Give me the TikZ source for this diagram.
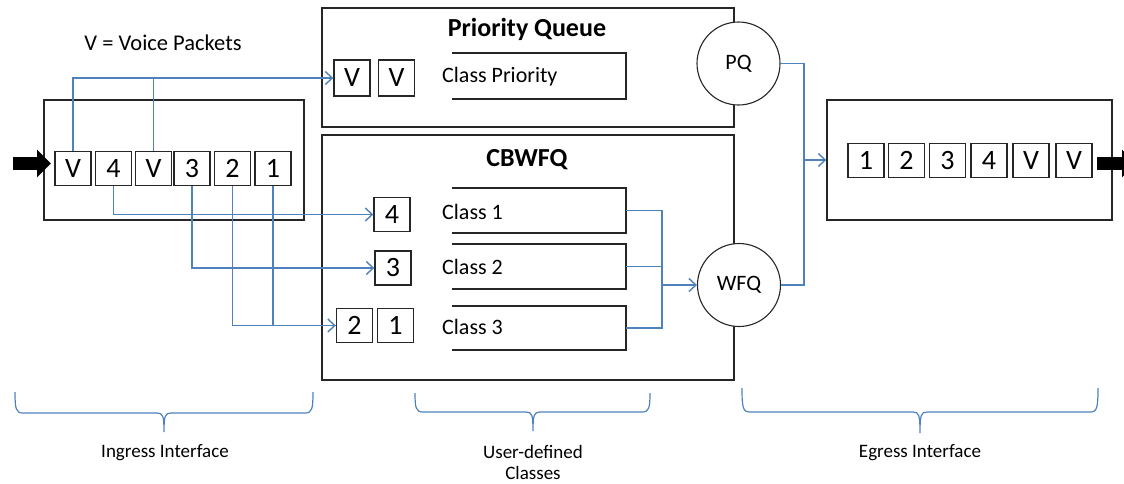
\documentclass[tikz,border=0pt]{standalone}
\usepackage{fontspec}
\setmainfont{Carlito}
\usetikzlibrary{arrows.meta}
\definecolor{lineblue}{HTML}{4F81BD}
\definecolor{boxgray}{HTML}{262626}
\newcommand{\mybrace}[6]{%
  \draw[bracestyle] (#1,#4) .. controls (#1,#5-4) and (#1+1,#5) .. (#1+8,#5)
    -- (#3-7,#5) .. controls (#3-1,#5) and (#3,#5+3) .. (#3,#6)
    .. controls (#3,#5+3) and (#3+1,#5) .. (#3+7,#5)
    -- (#2-8,#5) .. controls (#2-1,#5) and (#2,#5-4) .. (#2,#4);}
\begin{document}
\begin{tikzpicture}[x=1pt,y=-1pt,
  frame/.style={draw=boxgray,line width=1.4pt,fill=white,inner sep=0pt},
  packet/.style={draw=boxgray,line width=1.4pt,minimum width=36pt,minimum height=34pt,inner sep=0pt,font=\fontsize{28}{30}\selectfont},
  sched/.style={circle,draw=boxgray,line width=1.1pt,fill=white,inner sep=0pt,font=\fontsize{22}{24}\selectfont},
  queue/.style={draw=boxgray,line width=1.4pt},
  flow/.style={draw=lineblue,line width=1.4pt},
  flowarrow/.style={flow,-{Straight Barb[length=7pt,width=13pt,line width=1.4pt]}},
  bigarrow/.style={line width=13pt,-{Triangle[length=14pt,width=27pt]}},
  bracestyle/.style={draw=lineblue,line width=1.2pt},
  title/.style={font=\fontsize{26}{28}\selectfont\bfseries},
  lbl/.style={font=\fontsize{22}{24}\selectfont,anchor=west,inner sep=0pt},
  bottom/.style={font=\fontsize{19}{21.5}\selectfont,align=center,inner sep=1pt}]
\useasboundingbox (0,0) rectangle (1124,483);
\clip (0,0) rectangle (1124,483);

% legend
\node[font=\fontsize{22.5}{24}\selectfont] (legend) at (163,43) {V = Voice Packets};

% ingress interface
\node[frame,minimum width=260pt,minimum height=120pt] (ing) at (174,160) {};
\node[packet] (i1) at (73,168.5) {V};
\node[packet] (i2) at (113.5,168.5) {4};
\node[packet] (i3) at (153.5,168.5) {V};
\node[packet] (i4) at (192,168.5) {3};
\node[packet] (i5) at (232.5,168.5) {2};
\node[packet] (i6) at (273,168.5) {1};
\coordinate (la) at (13,163.5);
\coordinate (lb) at (51,163.5);
\draw[bigarrow] (la) -- (lb);

% priority queue
\node[frame,minimum width=412pt,minimum height=119pt] (pqbox) at (528,67.5) {};
\node[title] (pqt) at (527,29) {Priority Queue};
\node[packet,minimum height=36pt] (pv1) at (352,78) {V};
\node[packet,minimum height=36pt] (pv2) at (396.5,78) {V};
\draw[queue] (452,53) -- (626,53) -- (626,99) -- (452,99);
\node[lbl] (cp) at (442,77) {Class Priority};
\node[sched,minimum size=83pt] (pq) at (738.5,63.5) {PQ};

% CBWFQ
\node[frame,minimum width=412pt,minimum height=245pt] (cbbox) at (528,257.5) {};
\node[title] (cbt) at (527,160) {CBWFQ};
\node[packet] (c4) at (392,214.5) {4};
\node[packet] (c3) at (393,268) {3};
\node[packet] (c2) at (354.5,325.5) {2};
\node[packet] (c1) at (395.5,325.5) {1};
\draw[queue] (452,188) -- (626,188) -- (626,233) -- (452,233);
\draw[queue] (452,244) -- (626,244) -- (626,289) -- (452,289);
\draw[queue] (452,306) -- (626,306) -- (626,350) -- (452,350);
\coordinate (q1r) at (626,210.5);
\coordinate (q2r) at (626,266.5);
\coordinate (q3r) at (626,328);
\node[lbl] (cl1) at (442,212) {Class 1};
\node[lbl] (cl2) at (442,267) {Class 2};
\node[lbl] (cl3) at (442,327) {Class 3};
\node[sched,minimum size=83pt] (wfq) at (739,285) {WFQ};

% egress interface
\node[frame,minimum width=285pt,minimum height=120pt] (eg) at (969.5,160) {};
\node[packet] (e1) at (866,160.5) {1};
\node[packet] (e2) at (906.5,160.5) {2};
\node[packet] (e3) at (947.5,160.5) {3};
\node[packet] (e4) at (989,160.5) {4};
\node[packet] (e5) at (1031,160.5) {V};
\node[packet] (e6) at (1074,160.5) {V};
\coordinate (ra) at (1097,163.5);
\coordinate (rb) at (1136,163.5);
\draw[bigarrow] (ra) -- (rb);

% flows
\draw[flowarrow] (i1.north) |- (pv1.west);
\draw[flow] (i3.north) -- (i3.north |- pv1.west);
\draw[flowarrow] (i2.south) |- (c4.west);
\draw[flowarrow] (i4.south) |- (c3.west);
\draw[flow] (i6.south) |- (c2.west);
\draw[flowarrow] (i5.south) |- (c2.west);
\coordinate (jx) at (662,0);
\draw[flow] (q1r) -- (jx |- q1r) -- (jx |- q3r) -- (q3r);
\draw[flow] (q2r) -- (jx |- q2r);
\draw[flowarrow] (jx |- wfq.west) -- (wfq.west);
\coordinate (ex) at (804,0);
\draw[flow] (pq.east) -- (ex |- pq.east) -- (ex |- wfq.east) -- (wfq.east);
\draw[flowarrow] (ex |- eg.west) -- (eg.west);

% braces and captions
\mybrace{15}{313}{164}{392}{413}{432}
\mybrace{415}{650}{533}{393}{412}{431}
\mybrace{742}{1098}{920}{388}{412}{433}
\node[bottom] (ingl) at (165,453) {Ingress Interface};
\node[bottom] (udl) at (533,462.5) {User-defined\\Classes};
\node[bottom] (egl) at (920,453) {Egress Interface};
\end{tikzpicture}
\end{document}
